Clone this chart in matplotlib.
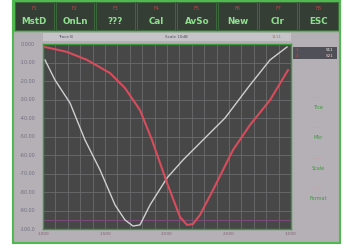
import numpy as np
import matplotlib.pyplot as plt
from matplotlib.patches import Rectangle

# soft keys across the top of the instrument screen
keys = ["MstD", "OnLn", "???", "Cal", "AvSo", "New", "Clr", "ESC"]
key_tops = ["F1", "F2", "F3", "F4", "F5", "F6", "F7", "F8"]

# y axis labels (one per horizontal grid line, top to bottom)
ylabels = ["0.000", "-10.00", "-20.00", "-30.00", "-40.00", "-50.00",
           "-60.00", "-70.00", "-80.00", "-90.00", "-100.0"]
xlabels = ["1.000", "1.500", "2.000", "2.500", "3.000"]

# white trace (x in divisions 0..20, y in divisions 0..10)
white_x = [0.16, 0.97, 2.18, 3.39, 4.6, 5.81, 6.61, 7.26, 7.82, 8.63, 10.0,
           11.29, 12.9, 14.68, 16.69, 18.31, 19.68]
white_y = [9.14, 8.05, 6.81, 4.81, 3.19, 1.30, 0.49, 0.16, 0.22, 1.30, 2.76,
           3.73, 4.81, 6.0, 7.78, 9.14, 9.84]

# red trace
red_x = [0.16, 1.94, 3.55, 5.40, 6.61, 7.82, 8.79, 10.0, 11.05, 11.61, 12.10,
         12.66, 13.71, 15.32, 16.69, 18.31, 19.76]
red_y = [9.84, 9.57, 9.14, 8.43, 7.62, 6.43, 4.81, 2.49, 0.65, 0.22, 0.27,
         0.76, 2.11, 4.27, 5.62, 6.97, 8.59]

side_labels = ["Trce", "Mkr", "Scale", "Format"]

W, H = 347, 245
fig = plt.figure(figsize=(W / 100, H / 100), dpi=100)
fig.patch.set_facecolor("white")

def px(x, y, w, h):
    # pixel box (top-left origin) -> figure fraction
    return [x / W, 1 - (y + h) / H, w / W, h / H]

bg = fig.add_axes([0, 0, 1, 1])
bg.set_xlim(0, W)
bg.set_ylim(H, 0)
bg.axis("off")

# screen body
bg.add_patch(Rectangle((13, 0), 327, 243, fc="#b5b0b6", ec="#4fb84f", lw=1.5))
# soft key bar
bg.add_patch(Rectangle((14, 1), 325, 30, fc="#343e35", ec="#4fb84f", lw=1))
bw = 325 / 8
for i, k in enumerate(keys):
    cx = 14 + bw * (i + 0.5)
    bg.add_patch(Rectangle((14 + bw * i + 1, 2), bw - 2, 28, fc="none", ec="#3e6e3e", lw=0.6))
    bg.text(cx, 9, key_tops[i], color="#b84a4a", fontsize=3.5, ha="center", va="center")
    bg.text(cx, 21, k, color="#8ee08e", fontsize=6.3, ha="center", va="center",
            fontweight="bold")

# title strip
bg.add_patch(Rectangle((43, 33), 248, 8, fc="#c6c4c8", ec="none"))
bg.text(58, 37, "Trace B", fontsize=3, color="#505060", va="center")
bg.text(165, 37, "Scale 10dB", fontsize=3, color="#505060", va="center")
bg.text(272, 37, "1111", fontsize=3, color="#c07030", va="center")

# right side panel
bg.add_patch(Rectangle((293, 47), 44, 12, fc="#505058", ec="none"))
bg.text(296, 50, "1", fontsize=3, color="#d04848", va="center")
bg.text(330, 50, "S11", fontsize=3, color="#f0f0f0", va="center", ha="center")
bg.text(296, 56, "2", fontsize=3, color="#d04848", va="center")
bg.text(330, 56, "S21", fontsize=3, color="#f0d0d0", va="center", ha="center")
for i, s in enumerate(side_labels):
    y = 107 + i * 30.5
    bg.text(318, y - 10, "-----", fontsize=3, color="#d09090", ha="center", va="center")
    bg.text(318, y, s, fontsize=3.5, color="#3a9a3a", ha="center", va="center")

# left axis labels
for i, lab in enumerate(ylabels):
    y = 44 + i * 18.5
    bg.text(28, y, lab, fontsize=3.5, color="#707080", ha="center", va="center")

# bottom axis labels
for i, lab in enumerate(xlabels):
    x = 43 + i * 62
    bg.text(x, 234, lab, fontsize=3, color="#806070", ha="center", va="center")

# plot area
ax = fig.add_axes(px(43, 44, 248, 185))
ax.set_facecolor("#474748")
ax.set_xlim(0, 20)
ax.set_ylim(0, 10)
ax.set_xticks(np.arange(0, 21, 1))
ax.set_yticks(np.arange(0, 11, 1))
ax.grid(True, color="#6a6a6e", lw=0.6)
ax.tick_params(length=0, labelbottom=False, labelleft=False)
for s in ax.spines.values():
    s.set_color("#3c9a3c")
    s.set_linewidth(1)

ax.axhline(0.5, color="#7a4a7a", lw=0.8)
ax.plot(white_x, white_y, color="#cfcfcf", lw=1.0)
ax.plot(red_x, red_y, color="#d84c5c", lw=1.5)

fig.savefig("out.png", dpi=100, facecolor="white")
